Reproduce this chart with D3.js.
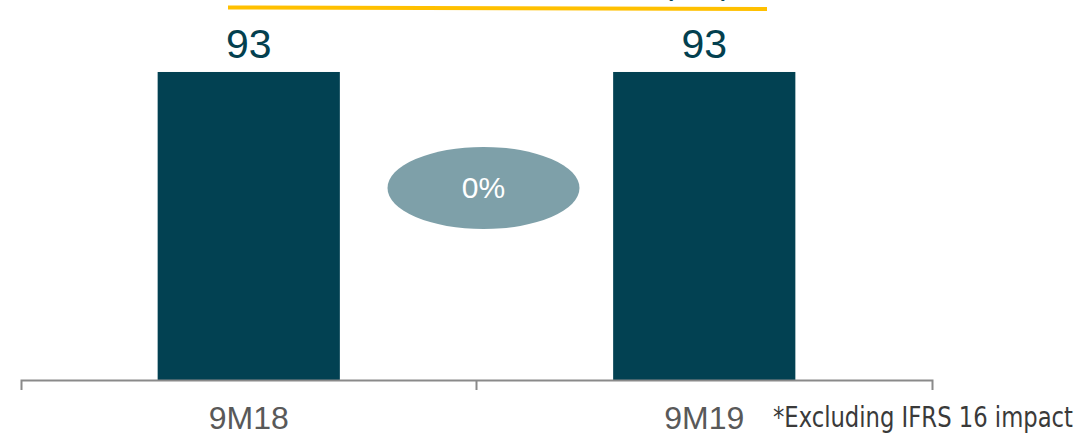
<!DOCTYPE html>
<html>
<head>
<meta charset="utf-8">
<script src="https://cdn.jsdelivr.net/npm/d3@7"></script>
<style>
  html, body { margin: 0; padding: 0; background: #ffffff; }
  svg { display: block; }
</style>
</head>
<body>
<svg id="chart" width="1081" height="434"></svg>
<script>
// Data
const categories = ["9M18", "9M19"];
const values = [93, 93];
const valueLabels = ["93", "93"];
const changeLabel = "0%";
const footnote = "*Excluding IFRS 16 impact";
const headerText = "(€m)";

const W = 1081, H = 434;
const axisY = 380;
const svg = d3.select("#chart");

const x = d3.scaleBand()
  .domain(categories)
  .range([21, 932])
  .paddingInner(0.6)
  .paddingOuter(0.3);

const y = d3.scaleLinear()
  .domain([0, 100])
  .range([axisY, 48.8]);

// Header rule with its title sitting mostly above the visible area
svg.append("text")
  .attr("x", 732)
  .attr("y", -6)
  .attr("text-anchor", "end")
  .attr("font-family", "Liberation Sans, Arial, sans-serif")
  .attr("font-size", 34)
  .attr("fill", "#03404f")
  .text(headerText);

svg.append("line")
  .attr("x1", 228).attr("y1", 7.5)
  .attr("x2", 767).attr("y2", 9)
  .attr("stroke", "#ffc000")
  .attr("stroke-width", 4);

// Bars
svg.append("g")
  .selectAll("rect")
  .data(values)
  .join("rect")
  .attr("x", (d, i) => x(categories[i]))
  .attr("y", d => y(d))
  .attr("width", x.bandwidth())
  .attr("height", d => y(0) - y(d))
  .attr("fill", "#024152");

// Value labels
svg.append("g")
  .selectAll("text")
  .data(values)
  .join("text")
  .attr("x", (d, i) => x(categories[i]) + x.bandwidth() / 2)
  .attr("y", d => y(d) - 14)
  .attr("text-anchor", "middle")
  .attr("font-family", "Liberation Sans, Arial, sans-serif")
  .attr("font-size", 41)
  .attr("fill", "#03404f")
  .text((d, i) => valueLabels[i]);

// Axis
const axis = d3.axisBottom(x)
  .tickSize(0)
  .tickSizeOuter(10)
  .tickPadding(26);

const gAxis = svg.append("g")
  .attr("transform", `translate(0,${axisY})`)
  .call(axis);

gAxis.select(".domain")
  .attr("stroke", "#8a8a8a")
  .attr("stroke-width", 2);

gAxis.selectAll(".tick text")
  .attr("font-family", "Liberation Sans, Arial, sans-serif")
  .attr("font-size", 32)
  .attr("fill", "#595959");

// Divider tick between the two categories
const midX = x(categories[1]) - x.step() * x.paddingInner() / 2;
gAxis.append("line")
  .attr("x1", midX).attr("x2", midX)
  .attr("y1", 0).attr("y2", 10)
  .attr("stroke", "#8a8a8a")
  .attr("stroke-width", 2);

// Change bubble
const bubbleX = midX + 7, bubbleY = 188;
svg.append("ellipse")
  .attr("cx", bubbleX)
  .attr("cy", bubbleY)
  .attr("rx", 96)
  .attr("ry", 41)
  .attr("fill", "#7ea0a9");

svg.append("text")
  .attr("x", bubbleX)
  .attr("y", bubbleY + 10)
  .attr("text-anchor", "middle")
  .attr("font-family", "Liberation Sans, Arial, sans-serif")
  .attr("font-size", 30)
  .attr("fill", "#ffffff")
  .text(changeLabel);

// Footnote
svg.append("text")
  .attr("x", 773)
  .attr("y", 427)
  .attr("font-family", "Liberation Sans Narrow, DejaVu Sans Condensed, sans-serif")
  .attr("font-size", 28)
  .attr("fill", "#3a3a3a")
  .attr("textLength", 300)
  .attr("lengthAdjust", "spacingAndGlyphs")
  .text(footnote);
</script>
</body>
</html>
